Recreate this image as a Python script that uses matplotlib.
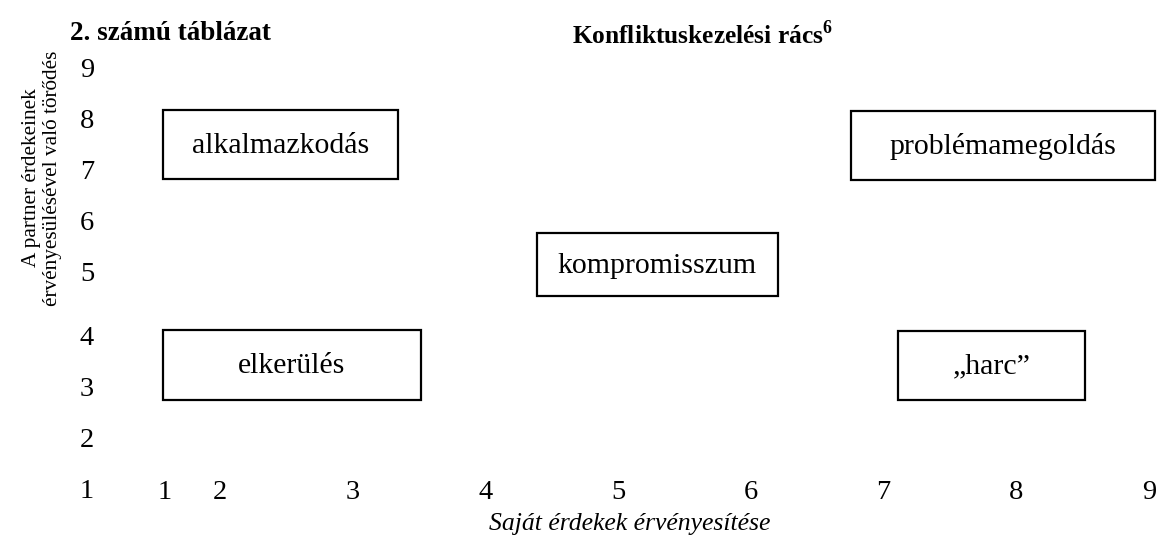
import matplotlib
matplotlib.use("Agg")
import matplotlib.pyplot as plt
from matplotlib.patches import Rectangle

plt.rcParams['font.family'] = ['Liberation Serif', 'DejaVu Serif']
plt.rcParams['mathtext.fontset'] = 'custom'
plt.rcParams['mathtext.bf'] = 'Liberation Serif:bold'
plt.rcParams['mathtext.rm'] = 'Liberation Serif'

# tengelyfeliratok (a rács nem egyenletes az eredetiben sem)
x_ticks = [1.585, 2, 3, 4, 5, 6, 7, 8, 9]
x_labels = ['1', '2', '3', '4', '5', '6', '7', '8', '9']
y_ticks = [1, 2, 3, 4, 5.24, 6.25, 7.24, 8.25, 9.25]
y_labels = ['1', '2', '3', '4', '5', '6', '7', '8', '9']

# dobozok: név, bal, jobb, alsó, felső
box_names = ['alkalmazkodás', 'problémamegoldás', 'kompromisszum', 'elkerülés', '\u201eharc\u201d']
box_x0 = [1.570, 6.755, 4.389, 1.570, 7.109]
box_x1 = [3.341, 9.046, 6.205, 3.515, 8.518]
box_y0 = [7.06, 7.04, 4.765, 2.725, 2.725]
box_y1 = [8.41, 8.39, 6.00, 4.098, 4.078]

fig = plt.figure(figsize=(11.59, 5.39), dpi=100)
ax = fig.add_axes([87 / 1159, 51 / 539, 1072 / 1159, 488 / 539])
ax.set_xlim(1, 9.076)
ax.set_ylim(1, 10.569)

for s in ax.spines.values():
    s.set_visible(False)

ax.set_xticks(x_ticks, x_labels)
ax.set_yticks(y_ticks, y_labels)
ax.tick_params(length=0, labelsize=20.5)
ax.tick_params(axis='y', pad=0)
ax.tick_params(axis='x', pad=3)
for lbl in ax.get_xticklabels():
    lbl.set_va('center')
for lbl in ax.get_yticklabels():
    lbl.set_ha('center')

for name, x0, x1, y0, y1 in zip(box_names, box_x0, box_x1, box_y0, box_y1):
    ax.add_patch(Rectangle((x0, y0), x1 - x0, y1 - y0, fill=False,
                           edgecolor='black', linewidth=1.6, clip_on=False))
    ax.text((x0 + x1) / 2, (y0 + y1) / 2 - 0.02, name, ha='center', va='center',
            fontsize=21.5)

ax.set_xlabel('Saját érdekek érvényesítése', fontsize=18.5, style='italic', va='center')
ax.xaxis.set_label_coords(0.5065, -0.0736)
ax.set_ylabel('A partner érdekeinek\nérvényesülésével való törődés', fontsize=15.3,
              va='center', linespacing=1.1)
ax.yaxis.set_label_coords(-0.042, 0.635)

fig.text(70 / 1159, 1 - 34 / 539, '2. számú táblázat', fontsize=19.5,
         fontweight='bold', ha='left', va='center')
fig.text(572 / 1159, 1 - 35 / 539, r'Konfliktuskezelési rács$^{\mathbf{6}}$',
         fontsize=18.3, fontweight='bold', ha='left', va='center')

fig.savefig('out.png', dpi=100)
